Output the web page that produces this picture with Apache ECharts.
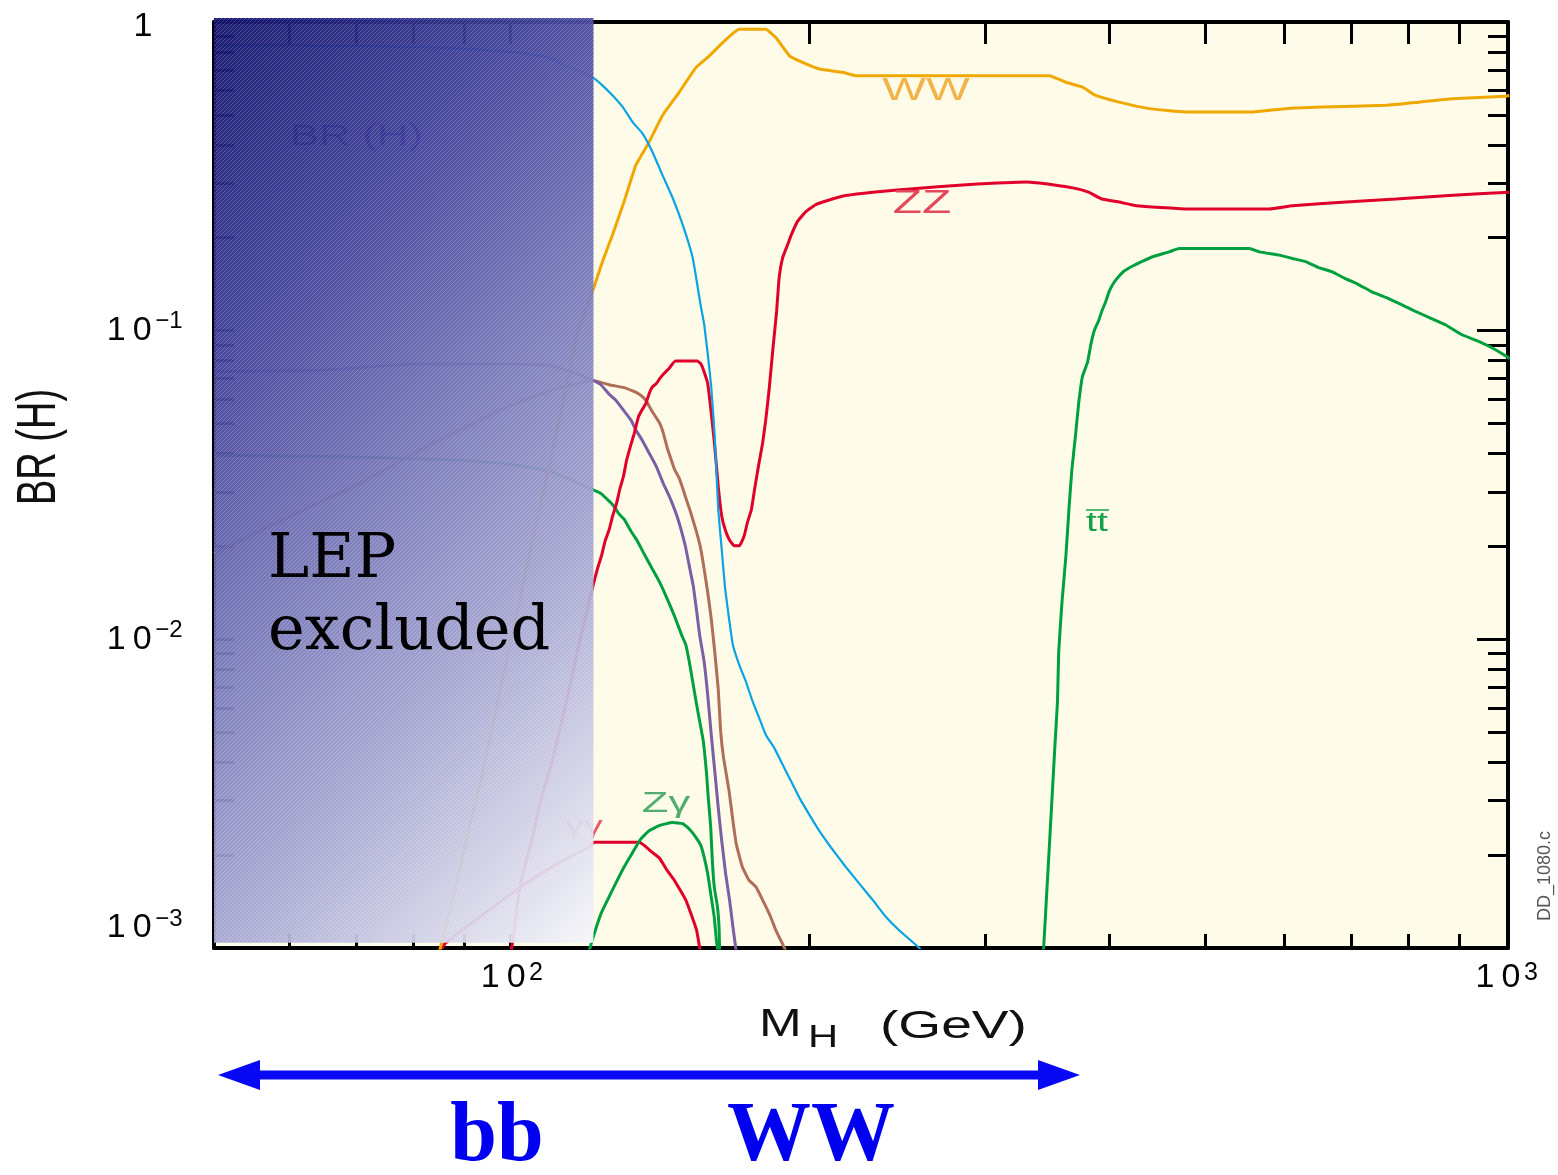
<!DOCTYPE html>
<html>
<head>
<meta charset="utf-8">
<title>Higgs branching ratios</title>
<script src="https://cdn.jsdelivr.net/npm/echarts@6/dist/echarts.min.js"></script>
<style>
  html, body { margin: 0; padding: 0; background: #ffffff; }
  #chart { width: 1558px; height: 1175px; }
</style>
</head>
<body>
<div id="chart"></div>
<script>
// Branching ratios of the Standard Model Higgs boson versus its mass.
// Each channel is a list of [M_H in GeV, BR] pairs.
const bbPoints = [
  [50.4, 0.84], [60, 0.84], [70, 0.837], [80, 0.83], [90, 0.82], [100, 0.80], [105, 0.785],
  [110.3, 0.758], [114.7, 0.713], [118, 0.69], [121.5, 0.657], [123.9, 0.622], [126.8, 0.578],
  [129.8, 0.53], [132.8, 0.474], [135.9, 0.435], [139, 0.38], [142.3, 0.319], [145.7, 0.269],
  [149.1, 0.2205], [152.6, 0.1722], [155.5, 0.12], [156.7, 0.105], [158, 0.0842], [159.3, 0.0657],
  [160.6, 0.0454], [161.9, 0.0263], [163.2, 0.0196], [164.5, 0.0146], [166, 0.01166],
  [167.5, 0.00957], [170, 0.00825], [172.6, 0.0073], [175.3, 0.00629], [178, 0.00556],
  [180.7, 0.00491], [184.3, 0.00445], [187.9, 0.00393], [191.5, 0.00348], [195.3, 0.00307],
  [199.8, 0.00271], [204.5, 0.0024], [210.1, 0.00212], [217.5, 0.00183], [224.3, 0.00162],
  [231.5, 0.00143], [238.7, 0.00126], [246.2, 0.00114], [257.8, 0.001], [262, 0.00094]
];
const wwPoints = [
  [84, 0.0009], [85.1, 0.001], [88.2, 0.00158], [91, 0.00246], [93.1, 0.0033], [94.3, 0.004],
  [100, 0.0096], [105, 0.02], [110, 0.039], [112.3, 0.053], [116.8, 0.0976], [121.4, 0.138],
  [123.9, 0.168], [126.8, 0.205], [130.2, 0.262], [133.8, 0.344], [138, 0.409], [142.3, 0.498],
  [147.9, 0.592], [153.8, 0.713], [158.6, 0.777], [163.6, 0.858], [169.9, 0.947], [180.7, 0.947],
  [185, 0.89], [190.9, 0.777], [196.8, 0.74], [204.6, 0.704], [215.9, 0.687], [222.6, 0.67],
  [348.3, 0.67], [361.9, 0.638], [376.3, 0.615], [387.9, 0.578], [409.5, 0.55], [438.9, 0.524],
  [477.7, 0.511], [557.5, 0.511], [602, 0.524], [655.6, 0.53], [759, 0.537], [820, 0.55],
  [885.6, 0.564], [1002, 0.575], [1010, 0.578]
];
const zzPoints = [
  [99.5, 0.0009], [100.4, 0.001], [102.3, 0.00158], [105.5, 0.00234], [107.3, 0.003],
  [110.2, 0.004], [115, 0.0072], [118, 0.0105], [121.4, 0.0153], [122.4, 0.0169], [123.6, 0.0187],
  [124.6, 0.0208], [125.8, 0.0227], [126.8, 0.0251], [128, 0.0277], [128.9, 0.0306], [130, 0.0337],
  [131, 0.0382], [132.1, 0.0421], [133.3, 0.0465], [134.6, 0.0526], [135.7, 0.0553],
  [136.9, 0.058], [138, 0.0626], [139, 0.0657], [140.3, 0.0674], [141.4, 0.0699], [142.8, 0.0726],
  [144.4, 0.0753], [146.6, 0.0797], [154.3, 0.0797], [155.5, 0.0781], [156.7, 0.0735],
  [158, 0.0674], [159.3, 0.054], [160.6, 0.0421], [161.9, 0.0313], [163.2, 0.0251],
  [164.5, 0.0227], [166, 0.0211], [168, 0.0201], [170, 0.0201], [171.9, 0.0216], [173.2, 0.0239],
  [174.8, 0.0263], [176.3, 0.0313], [177.9, 0.0372], [179.4, 0.0432], [180.7, 0.0513],
  [182.1, 0.0641], [183.8, 0.0884], [185.3, 0.115], [186.4, 0.1486], [187.9, 0.172],
  [190.1, 0.19], [191.8, 0.205], [194.5, 0.226], [198.3, 0.243], [202.9, 0.256], [209.3, 0.265],
  [217.5, 0.274], [231.5, 0.281], [255.9, 0.289], [287.5, 0.297], [330.6, 0.303], [351, 0.297],
  [369.9, 0.289], [381.4, 0.281], [393.5, 0.267], [409.5, 0.261], [426, 0.254], [477.7, 0.248],
  [579.3, 0.248], [611.4, 0.254], [692.2, 0.261], [776.9, 0.267], [878.9, 0.274], [1010, 0.281]
];
const ttPoints = [
  [342.5, 0.0008], [343.8, 0.001], [347, 0.0017], [350, 0.0028], [353, 0.0046], [355, 0.0063],
  [356, 0.0091], [358.7, 0.0132], [362, 0.0187], [364.5, 0.0263], [367, 0.0354], [370, 0.0454],
  [372.8, 0.058], [376, 0.0708], [380.6, 0.0791], [383.6, 0.0906], [386.5, 0.1], [390.4, 0.1076],
  [393.5, 0.116], [396.6, 0.1234], [400.3, 0.1345], [404.4, 0.143], [409.5, 0.1503],
  [414.2, 0.156], [422.5, 0.162], [432.4, 0.168], [442.5, 0.1736], [459.7, 0.18], [470.4, 0.1846],
  [553.6, 0.1846], [566.5, 0.18], [593.3, 0.1757], [611.4, 0.1714], [630.5, 0.1673],
  [649.6, 0.16], [669.7, 0.1553], [690, 0.1478], [711.7, 0.1413], [733.9, 0.1339], [759, 0.1281],
  [788, 0.1213], [813, 0.1154], [841.6, 0.1099], [871.2, 0.1045], [905.3, 0.097], [940.8, 0.0924],
  [971.2, 0.0879], [1006, 0.0821], [1010, 0.081]
];
const tautauPoints = [
  [50.4, 0.0736], [65, 0.0745], [80, 0.078], [100, 0.078], [110, 0.077], [116, 0.073],
  [121.5, 0.0688], [123.4, 0.0668], [125.8, 0.0622], [127.7, 0.0595], [130, 0.0553],
  [132.3, 0.0513], [133.8, 0.0477], [135.7, 0.0443], [138, 0.0401], [140.3, 0.0363],
  [142.5, 0.0321], [145, 0.0284], [147.5, 0.0245], [150, 0.0201], [151.4, 0.0173],
  [152.8, 0.0149], [153.9, 0.01256], [155.1, 0.0103], [156.7, 0.00846], [158, 0.0066],
  [159.3, 0.00491], [160.6, 0.00374], [161.9, 0.00285], [163.2, 0.00223], [164.7, 0.00174],
  [166.2, 0.00143], [167.5, 0.00117], [168.6, 0.001], [169.5, 0.0009]
];
const ggPoints = [
  [50.4, 0.019], [60, 0.025], [70.6, 0.032], [83.7, 0.0432], [97.7, 0.0552], [109.7, 0.064],
  [116.8, 0.0674], [121.5, 0.0688], [125.8, 0.0668], [130.2, 0.0654], [132.8, 0.0638],
  [134.9, 0.0622], [136.9, 0.0595], [139, 0.0546], [141.4, 0.0501], [142.6, 0.0465],
  [143.9, 0.0416], [145.2, 0.0382], [146.4, 0.0354], [147.9, 0.0333], [149.1, 0.0309],
  [150.2, 0.0287], [151.6, 0.0263], [154, 0.0222], [155.5, 0.0196], [156.7, 0.0169],
  [158, 0.0142], [159.3, 0.01166], [160.6, 0.0091], [161.9, 0.0069], [162.8, 0.00504],
  [163.9, 0.00413], [166, 0.00323], [167.5, 0.00258], [168.8, 0.00217], [171.2, 0.00183],
  [173.8, 0.00166], [176.6, 0.00158], [180, 0.0014], [182.8, 0.00126], [185, 0.00114],
  [187.9, 0.00103], [188.7, 0.001], [190, 0.00095]
];
const ccPoints = [
  [50.4, 0.0395], [70, 0.039], [90, 0.038], [100, 0.037], [110, 0.035], [116, 0.0325],
  [121.5, 0.0304], [123.4, 0.0297], [124.8, 0.0287], [126.8, 0.0273], [128.8, 0.0254],
  [130.2, 0.0245], [132.3, 0.0224], [134.3, 0.0208], [136.4, 0.0189], [139, 0.0169],
  [141.4, 0.0153], [143.9, 0.0135], [146.2, 0.01196], [148.8, 0.0103], [150.2, 0.0096],
  [151.4, 0.00846], [152.6, 0.0073], [153.8, 0.00629], [155.1, 0.00542], [156.4, 0.00468],
  [157.6, 0.00365], [158.2, 0.00307], [159.1, 0.00246], [159.7, 0.00192], [160.4, 0.00158],
  [161.6, 0.00136], [162.2, 0.00117], [162.4, 0.001], [162.6, 0.0009]
];
const gamgamPoints = [
  [85, 0.00098], [86.2, 0.00104], [98.3, 0.00143], [106.1, 0.0017], [114.7, 0.00197],
  [120, 0.00212], [121.5, 0.0022], [134.8, 0.0022], [136.4, 0.00215], [139, 0.00204],
  [141.4, 0.00195], [143.9, 0.00178], [146.2, 0.00166], [147.9, 0.00156], [150.2, 0.00143],
  [152, 0.00129], [154, 0.00114], [155.1, 0.001], [155.6, 0.00095]
];
const zgamPoints = [
  [119.8, 0.00095], [120.3, 0.001], [121.8, 0.00114], [123.4, 0.00129], [125.3, 0.00143],
  [127.7, 0.00162], [130.2, 0.00183], [132.8, 0.00204], [135.4, 0.00226], [138, 0.0024],
  [141.2, 0.00249], [145.6, 0.00255], [149.1, 0.00253], [151.4, 0.00243], [153.8, 0.00228],
  [155.5, 0.00215], [156.7, 0.00197], [158, 0.00174], [159.1, 0.0015], [160.4, 0.00126],
  [161.2, 0.00106], [161.6, 0.001], [161.8, 0.00095]
];

// Axis ranges, tick and label positions
const massRange = [50.4, 1007];
const brRange = [0.001, 1];
const massTicks = [60, 70, 80, 90, 100, 200, 300, 400, 500, 600, 700, 800, 900];
const massLabels = [100, 1000];
const brMinorTicks = [0.002, 0.003, 0.004, 0.005, 0.006, 0.007, 0.008, 0.009,
                      0.02, 0.03, 0.04, 0.05, 0.06, 0.07, 0.08, 0.09,
                      0.2, 0.3, 0.4, 0.5, 0.6, 0.7, 0.8, 0.9];
const brMajorTicks = [0.01, 0.1];
const brLabels = [0.001, 0.01, 0.1, 1];
// LEP exclusion band: mass range (GeV) and BR extent of the shaded box
const lepMass = [50.4, 121.3];
const lepBR = [0.00104, 1.03];

const SANS = '"Liberation Sans", Arial, sans-serif';
const SERIF = '"DejaVu Serif", serif';
const BLACK = '#000000';
const INK = '#050505';

// Power-of-ten labels drawn as 10 with a superscript exponent
function powerLabel(v) {
  const e = Math.round(Math.log10(v));
  if (e === 0) return '{one|1}';
  const exp = e < 0 ? '\u2212' + (-e) : String(e);
  const k = e === -3 ? 'L' : '';
  return '{d' + k + '|1}{d' + k + '|0}{s' + k + '|' + exp + '}';
}
const labelRich = {
  one: { fontSize: 34, fontFamily: SANS, color: INK, lineHeight: 36, padding: [10, 0, 0, 0] },
  d:  { fontSize: 34, fontFamily: SANS, color: INK, lineHeight: 36, width: 26, align: 'center' },
  s:  { fontSize: 24, fontFamily: SANS, color: INK, lineHeight: 24, padding: [0, 0, 18, 0] },
  dL: { fontSize: 34, fontFamily: SANS, color: INK, lineHeight: 36, width: 26, align: 'center', padding: [0, 0, 40, 0] },
  sL: { fontSize: 24, fontFamily: SANS, color: INK, lineHeight: 24, padding: [0, 0, 58, 0] }
};
const xLabelRich = {
  d: { fontSize: 34, fontFamily: SANS, color: INK, lineHeight: 36, width: 26, align: 'center' },
  s: { fontSize: 25, fontFamily: SANS, color: INK, lineHeight: 26, padding: [0, 0, 10, 0] }
};

function massAxis(position, tickLen, withLabels) {
  return {
    type: 'log', logBase: 10, position: position,
    min: massRange[0], max: massRange[1],
    axisLine: { show: true, onZero: false, lineStyle: { color: BLACK, width: 4 } },
    axisTick: { show: true, inside: true, length: tickLen, customValues: massTicks,
                lineStyle: { color: BLACK, width: 3 } },
    axisLabel: withLabels ? {
      show: true, customValues: massLabels, margin: 12,
      formatter: function (v) { return '{d|1}{d|0}{s|' + Math.round(Math.log10(v)) + '}'; },
      rich: xLabelRich, showMinLabel: true, showMaxLabel: true
    } : { show: false },
    splitLine: { show: false }, minorTick: { show: false }, minorSplitLine: { show: false }
  };
}
function brAxis(position, tickLen, ticks, withLabels, showLine) {
  return {
    type: 'log', logBase: 10, position: position,
    min: brRange[0], max: brRange[1],
    axisLine: { show: showLine, onZero: false, lineStyle: { color: BLACK, width: 4 } },
    axisTick: { show: true, inside: true, length: tickLen, customValues: ticks,
                lineStyle: { color: BLACK, width: 3 } },
    axisLabel: withLabels ? {
      show: true, customValues: brLabels, margin: 71, align: 'center',
      formatter: powerLabel, rich: labelRich, showMinLabel: true, showMaxLabel: true
    } : { show: false },
    splitLine: { show: false }, minorTick: { show: false }, minorSplitLine: { show: false }
  };
}

function channel(name, points, color, width) {
  return {
    type: 'line', name: name, data: points, xAxisIndex: 0, yAxisIndex: 0,
    showSymbol: false, symbol: 'none', smooth: 0.12, clip: true, silent: true, z: 2,
    lineStyle: { color: color, width: width }, itemStyle: { color: color }
  };
}

const chart = echarts.init(document.getElementById('chart'), null, { renderer: 'canvas' });
chart.setOption({
  animation: false,
  backgroundColor: '#ffffff',
  grid: { left: 214, top: 16, width: 1294, height: 932, containLabel: false,
          show: true, backgroundColor: '#fefce8', borderWidth: 0 },
  xAxis: [
    massAxis('bottom', 14, true),
    massAxis('top', 22, false)
  ],
  yAxis: [
    brAxis('left', 20, brMinorTicks.concat(brMajorTicks), true, true),
    brAxis('right', 20, brMinorTicks, false, true),
    brAxis('right', 31, brMajorTicks, false, false)
  ],
  series: [
    channel('cc', ccPoints, '#00a040', 3),
    channel('gg', ggPoints, '#b06e5a', 3),
    channel('tautau', tautauPoints, '#7a5ea6', 3),
    channel('gammagamma', gamgamPoints, '#e0002a', 3),
    channel('Zgamma', zgamPoints, '#00a040', 3),
    channel('tt', ttPoints, '#00a040', 3),
    channel('ZZ', zzPoints, '#e0002a', 3),
    channel('WW', wwPoints, '#f0a800', 3),
    channel('bb', bbPoints, '#0aa3e6', 2.2)
  ]
});

// Shaded exclusion box, placed through the axis scales
const bandLeft = chart.convertToPixel({ xAxisIndex: 0 }, lepMass[0]);
const bandRight = chart.convertToPixel({ xAxisIndex: 0 }, lepMass[1]);
const bandTop = chart.convertToPixel({ yAxisIndex: 0 }, lepBR[1]);
const bandBottom = chart.convertToPixel({ yAxisIndex: 0 }, lepBR[0]);
const bandShape = { x: bandLeft, y: bandTop, width: bandRight - bandLeft, height: bandBottom - bandTop };

// Fine diagonal hatching on the exclusion box
const hatch = document.createElement('canvas');
hatch.width = 4; hatch.height = 4;
const hctx = hatch.getContext('2d');
hctx.fillStyle = 'rgba(255,255,255,0.2)';
for (let i = 0; i < 4; i++) hctx.fillRect(i, 3 - i, 1, 1);

const bandGradient = new echarts.graphic.LinearGradient(0, 0, 1.76, 0.674, [
  { offset: 0.0, color: '#0e0e6c' },
  { offset: 0.25, color: '#3c3c99' },
  { offset: 0.5, color: '#7878ba' },
  { offset: 0.7, color: '#a6a6d3' },
  { offset: 0.85, color: '#cfcfe6' },
  { offset: 1.0, color: '#f7f7fb' }
]);

function label(text, x, y, color, size, extra) {
  return Object.assign({
    type: 'text', x: x, y: y, z: 20, silent: true,
    style: { text: text, fill: color, font: size + 'px ' + SANS,
             align: 'center', verticalAlign: 'middle', textAlign: 'center', textVerticalAlign: 'middle' }
  }, extra || {});
}
function plainText(text, x, y, font, fill, alignH, extra) {
  return Object.assign({
    type: 'text', x: x, y: y, z: 20, silent: true,
    style: { text: text, fill: fill, font: font, align: alignH, verticalAlign: 'middle',
             textAlign: alignH, textVerticalAlign: 'middle' }
  }, extra || {});
}

const graphics = [
  // faint plot title beneath the exclusion box
  plainText('BR (H)', 290, 137, '30px ' + SANS, '#1d1d8a', 'left', { z: 1, scaleX: 1.45 }),
  // exclusion box with its hatching
  { type: 'rect', z: 10, silent: true, shape: bandShape, style: { fill: bandGradient, opacity: 0.94 } },
  { type: 'rect', z: 11, silent: true, shape: bandShape, style: { fill: { image: hatch, repeat: 'repeat' } } },
  // channel names
  label('WW', 926, 91, '#f2b44a', 32, { scaleX: 1.45 }),
  label('ZZ', 922, 204, '#e4485a', 33, { scaleX: 1.45 }),
  label('tt', 1097, 524, '#16a04e', 27, { scaleX: 1.45 }),
  { type: 'line', z: 20, silent: true, shape: { x1: 1086, y1: 510, x2: 1109, y2: 510 },
    style: { stroke: '#16a04e', lineWidth: 1.5 } },
  label('Z\u03b3', 666, 804, '#52ad70', 30, { scaleX: 1.45 }),
  label('\u03b3\u03b3', 584, 827, '#e85a6a', 26, { scaleX: 1.45, z: 9 }),
  // axis titles
  plainText('BR (H)', 40, 447, '38px ' + SANS, '#111', 'center', { rotation: Math.PI / 2, scaleY: 1.45 }),
  plainText('M', 759, 1026, '38px ' + SANS, '#111', 'left', { scaleX: 1.35 }),
  plainText('H', 808, 1038, '31px ' + SANS, '#111', 'left', { scaleX: 1.35 }),
  plainText('(GeV)', 880, 1028, '38px ' + SANS, '#111', 'left', { scaleX: 1.45 }),
  // figure tag
  plainText('DD_1080.c', 1545, 876, '18px ' + SANS, '#555', 'center', { rotation: Math.PI / 2 }),
  // exclusion box caption
  plainText('LEP', 268, 561, '62px ' + SERIF, '#000', 'left', { z: 21 }),
  plainText('excluded', 268, 633, '62px ' + SERIF, '#000', 'left', { z: 21 }),
  // dominant decay mode arrow
  { type: 'line', z: 20, silent: true, shape: { x1: 250, y1: 1075, x2: 1048, y2: 1075 },
    style: { stroke: '#0808f4', lineWidth: 9 } },
  { type: 'polygon', z: 20, silent: true, shape: { points: [[218, 1075], [260, 1060], [260, 1090]] },
    style: { fill: '#0808f4' } },
  { type: 'polygon', z: 20, silent: true, shape: { points: [[1080, 1075], [1038, 1060], [1038, 1090]] },
    style: { fill: '#0808f4' } },
  plainText('bb', 497, 1138, 'bold 84px "Liberation Serif", serif', '#0000f0', 'center'),
  plainText('WW', 811, 1138, 'bold 84px "Liberation Serif", serif', '#0000f0', 'center')
];

chart.setOption({ graphic: { elements: graphics } });
</script>
</body>
</html>
